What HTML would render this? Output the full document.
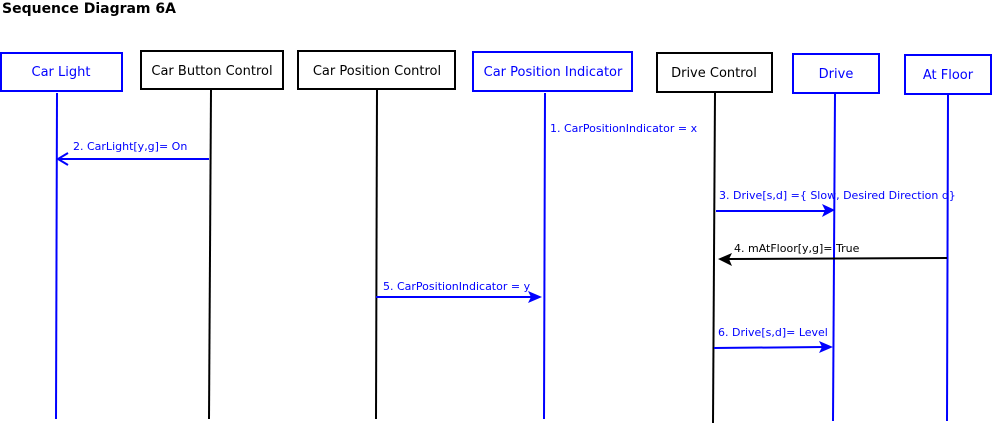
<!DOCTYPE html>
<html><head><style>
body{margin:0;background:#fff;}
svg{display:block;font-family:"DejaVu Sans","Liberation Sans",sans-serif;}
</style></head><body>
<svg width="992" height="425" viewBox="0 0 992 425" xmlns="http://www.w3.org/2000/svg">
<text x="2" y="13" font-size="14" font-weight="bold" fill="#000">Sequence Diagram 6A</text>
<g fill="#fff" stroke-width="2">
<rect x="1" y="53" width="121" height="38" stroke="#0000ff"/>
<rect x="141" y="51" width="142" height="38" stroke="#000"/>
<rect x="298" y="51" width="157" height="38" stroke="#000"/>
<rect x="473" y="52" width="159" height="39" stroke="#0000ff"/>
<rect x="657" y="53" width="115" height="39" stroke="#000"/>
<rect x="793" y="54" width="86" height="39" stroke="#0000ff"/>
<rect x="905" y="55" width="86" height="39" stroke="#0000ff"/>
</g>
<g font-size="13" text-anchor="middle">
<text x="61" y="76" fill="#0000ff">Car Light</text>
<text x="212" y="75" fill="#000">Car Button Control</text>
<text x="377" y="75" fill="#000">Car Position Control</text>
<text x="553" y="76" fill="#0000ff">Car Position Indicator</text>
<text x="714" y="77" fill="#000">Drive Control</text>
<text x="836" y="78" fill="#0000ff">Drive</text>
<text x="948" y="79" fill="#0000ff">At Floor</text>
</g>
<g stroke-width="2" fill="none">
<line x1="57" y1="93" x2="56" y2="419" stroke="#0000ff"/>
<line x1="211" y1="90" x2="209" y2="419" stroke="#000"/>
<line x1="377" y1="90" x2="376" y2="419" stroke="#000"/>
<line x1="545" y1="93" x2="544" y2="419" stroke="#0000ff"/>
<line x1="715" y1="93" x2="713" y2="423" stroke="#000"/>
<line x1="835" y1="94" x2="833" y2="421" stroke="#0000ff"/>
<line x1="948" y1="95" x2="947" y2="421" stroke="#0000ff"/>
</g>
<g stroke-width="2">
<line x1="209" y1="159" x2="58" y2="159" stroke="#0000ff"/>
<polyline points="68,153 58,159 68,165" fill="none" stroke="#0000ff"/>
<line x1="716" y1="211" x2="826" y2="211" stroke="#0000ff"/>
<polygon points="835,210 822,204 825,210 822,217" fill="#0000ff" stroke="none"/>
<line x1="947" y1="258" x2="728" y2="259" stroke="#000"/>
<polygon points="718,259 732,253 729,259 732,266" fill="#000" stroke="none"/>
<line x1="376" y1="297" x2="532" y2="297" stroke="#0000ff"/>
<polygon points="542,297 528,291 531,297 528,303" fill="#0000ff" stroke="none"/>
<line x1="714" y1="348" x2="824" y2="347" stroke="#0000ff"/>
<polygon points="833,347 819,341 822,347 819,353" fill="#0000ff" stroke="none"/>
</g>
<g font-size="11">
<text x="550" y="132" fill="#0000ff">1. CarPositionIndicator = x</text>
<text x="73" y="150" fill="#0000ff">2. CarLight[y,g]= On</text>
<text x="719" y="199" fill="#0000ff">3. Drive[s,d] ={ Slow, Desired Direction d}</text>
<text x="734" y="252" fill="#000">4. mAtFloor[y,g]= True</text>
<text x="383" y="290" fill="#0000ff">5. CarPositionIndicator = y</text>
<text x="718" y="336" fill="#0000ff">6. Drive[s,d]= Level</text>
</g>
</svg>
</body></html>
